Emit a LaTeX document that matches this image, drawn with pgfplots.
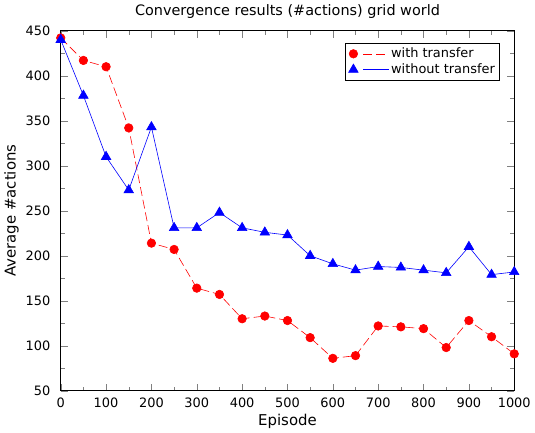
\documentclass[border=0pt]{standalone}
\usepackage{pgfplots}
\pgfplotsset{compat=1.18}
\usepackage{fontspec}
\setmainfont{DejaVu Sans}
\begin{document}
\fontsize{13}{15}\selectfont
\begin{tikzpicture}
\begin{axis}[
  scale only axis,
  width=456pt, height=362pt,
  xmin=0, xmax=1000, ymin=50, ymax=450,
  xtick={0,100,...,1000}, ytick={50,100,...,450},
  minor x tick num=1, minor y tick num=1,
  tick align=inside,
  major tick length=7pt, minor tick length=4pt,
  /pgf/number format/assume math mode=true,
  /pgf/number format/1000 sep={},
  tick label style={font=\fontsize{13}{15}\selectfont},
  yticklabel style={xshift=-6pt},
  xticklabel style={yshift=-3pt},
  title={Convergence results (\#actions) grid world},
  title style={font=\fontsize{14.5}{16}\selectfont, yshift=2pt},
  xlabel={Episode}, ylabel={Average \#actions},
  label style={font=\fontsize{15}{17}\selectfont},
  xlabel style={yshift=3pt},
  ylabel style={yshift=-2pt},
  axis line style={black, line width=0.8pt},
  legend style={at={(0.969,0.967)}, anchor=north east, draw=black, line width=0.7pt,
    font=\fontsize{13}{15}\selectfont, row sep=0pt, inner xsep=3pt, inner ysep=3pt},
  legend cell align=left,
  legend image code/.code={
    \draw[#1] (0.3cm,0cm) -- (1.2cm,0cm);
    \draw[#1,solid,only marks] plot coordinates {(-0.05cm,0cm)};
  },
]
\addplot[color=red, dash pattern=on 9pt off 4pt, line width=0.6pt,
  mark=*, mark size=4.3pt, mark options={solid, fill=red, draw=red}] coordinates {
(0,442) (50,417) (100,410) (150,342) (200,214) (250,207) (300,164) (350,157)
(400,130) (450,133) (500,128) (550,109) (600,86) (650,89) (700,122) (750,121)
(800,119) (850,98) (900,128) (950,110) (1000,91)
};
\addlegendentry{with transfer}
\addplot[color=blue, solid, line width=0.6pt,
  mark=triangle*, mark size=5.5pt, mark options={fill=blue, draw=blue}] coordinates {
(0,440) (50,378) (100,310) (150,273) (200,343) (250,231) (300,231) (350,248)
(400,231) (450,226) (500,223) (550,200) (600,191) (650,184) (700,188) (750,187)
(800,184) (850,181) (900,210) (950,179) (1000,182)
};
\addlegendentry{without transfer}
\end{axis}
\end{tikzpicture}
\end{document}
